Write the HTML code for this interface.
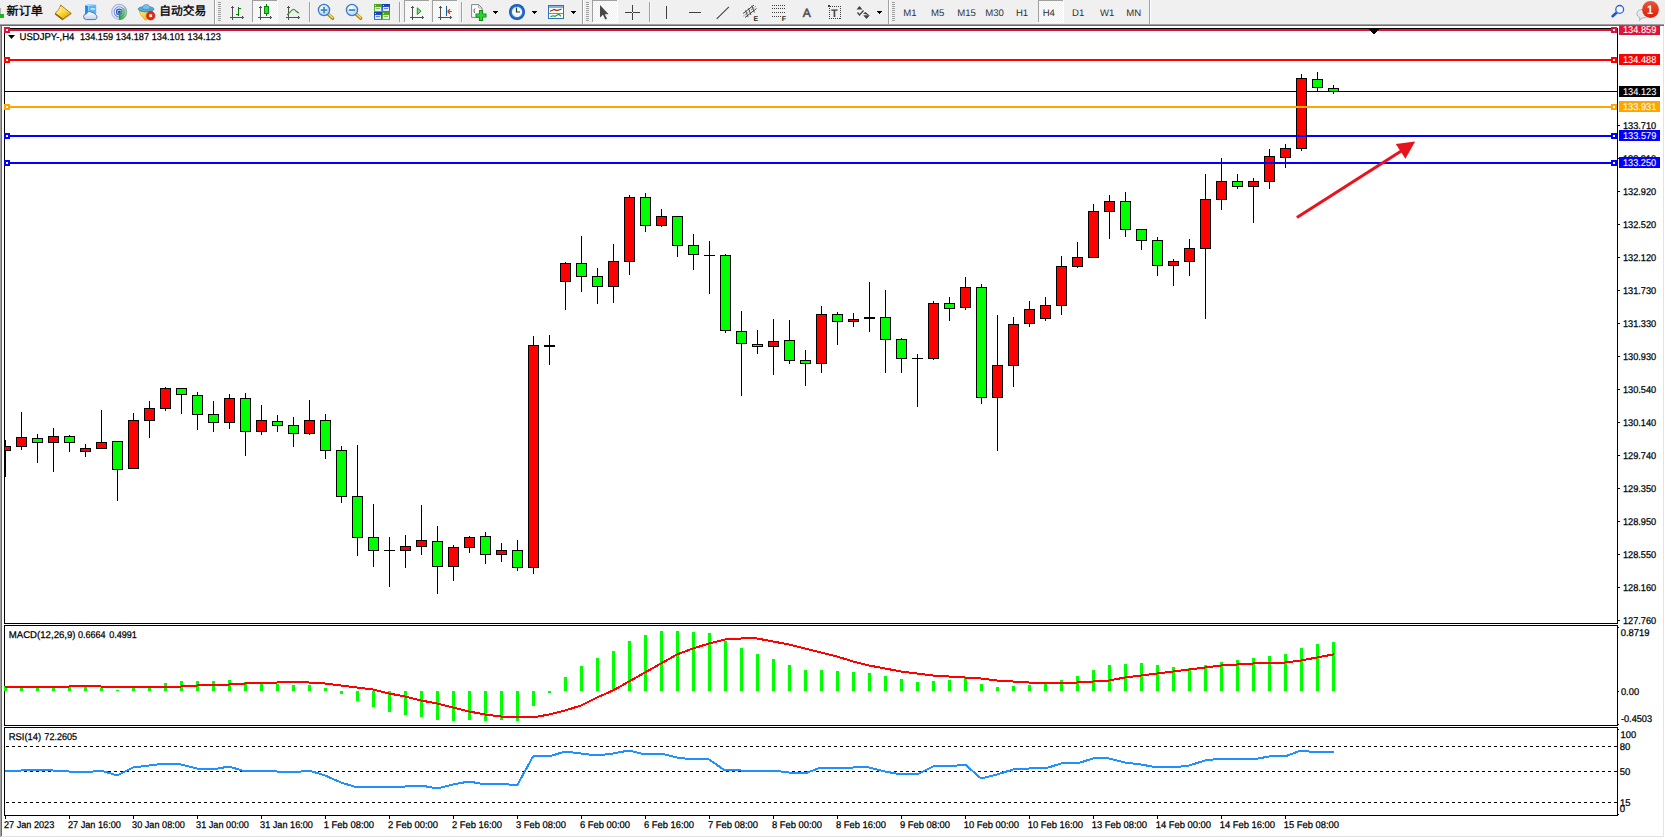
<!DOCTYPE html>
<html><head><meta charset="utf-8"><title>USDJPY-,H4</title>
<style>
html,body{margin:0;padding:0;background:#f0f0f0;overflow:hidden}
body{width:1665px;height:838px;position:relative}
svg{position:absolute;left:0;top:0;display:block}
svg text{font-family:"Liberation Sans", sans-serif;white-space:pre;text-rendering:geometricPrecision}
.tb text{font-family:"Liberation Sans","Noto Sans CJK SC",sans-serif}
</style></head>
<body>
<svg width="1665" height="838" viewBox="0 0 1665 838" shape-rendering="crispEdges">
<defs><clipPath id="clipclient"><rect x="2" y="26" width="1661" height="810"/></clipPath>
</defs>
<rect x="0" y="0" width="1665" height="838" fill="#f0f0f0"/>
<rect x="0" y="24" width="1664" height="1" fill="#a0a0a0"/>
<rect x="0" y="25" width="1664" height="1" fill="#696969"/>
<rect x="0" y="26" width="1" height="811" fill="#a0a0a0"/>
<rect x="1" y="26" width="1" height="810" fill="#696969"/>
<rect x="2" y="26" width="1661" height="810" fill="#ffffff"/>
<rect x="1663" y="26" width="1" height="811" fill="#e3e3e3"/>
<rect x="1" y="836" width="1663" height="1" fill="#e3e3e3"/>
<rect x="1664" y="24" width="1" height="814" fill="#ffffff"/>
<rect x="0" y="837" width="1665" height="1" fill="#ffffff"/>
<rect x="4" y="28" width="1614" height="1" fill="#000"/>
<rect x="4" y="623" width="1614" height="1" fill="#000"/>
<rect x="4" y="28" width="1" height="596" fill="#000"/>
<rect x="1617" y="28" width="1" height="596" fill="#000"/>
<rect x="4" y="625" width="1614" height="1" fill="#000"/>
<rect x="4" y="725" width="1614" height="1" fill="#000"/>
<rect x="4" y="625" width="1" height="101" fill="#000"/>
<rect x="1617" y="625" width="1" height="101" fill="#000"/>
<rect x="4" y="727" width="1614" height="1" fill="#000"/>
<rect x="4" y="815" width="1614" height="1" fill="#000"/>
<rect x="4" y="727" width="1" height="89" fill="#000"/>
<rect x="1617" y="727" width="1" height="89" fill="#000"/>
<rect x="5" y="91" width="1612" height="1" fill="#000"/>
<g id="candles">
<rect x="5" y="440" width="1" height="37" fill="#000"/>
<rect x="5" y="446" width="6" height="5" fill="#000"/>
<rect x="5" y="447" width="5" height="3" fill="#ff0000"/>
<rect x="21" y="412" width="1" height="38" fill="#000"/>
<rect x="16" y="437" width="11" height="10" fill="#000"/>
<rect x="17" y="438" width="9" height="8" fill="#ff0000"/>
<rect x="37" y="434" width="1" height="29" fill="#000"/>
<rect x="32" y="438" width="11" height="5" fill="#000"/>
<rect x="33" y="439" width="9" height="3" fill="#00ff00"/>
<rect x="53" y="428" width="1" height="44" fill="#000"/>
<rect x="48" y="436" width="11" height="7" fill="#000"/>
<rect x="49" y="437" width="9" height="5" fill="#ff0000"/>
<rect x="69" y="435" width="1" height="17" fill="#000"/>
<rect x="64" y="436" width="11" height="7" fill="#000"/>
<rect x="65" y="437" width="9" height="5" fill="#00ff00"/>
<rect x="85" y="444" width="1" height="13" fill="#000"/>
<rect x="80" y="448" width="11" height="4" fill="#000"/>
<rect x="81" y="449" width="9" height="2" fill="#ff0000"/>
<rect x="101" y="410" width="1" height="39" fill="#000"/>
<rect x="96" y="442" width="11" height="7" fill="#000"/>
<rect x="97" y="443" width="9" height="5" fill="#ff0000"/>
<rect x="117" y="441" width="1" height="60" fill="#000"/>
<rect x="112" y="441" width="11" height="29" fill="#000"/>
<rect x="113" y="442" width="9" height="27" fill="#00ff00"/>
<rect x="133" y="413" width="1" height="56" fill="#000"/>
<rect x="128" y="420" width="11" height="49" fill="#000"/>
<rect x="129" y="421" width="9" height="47" fill="#ff0000"/>
<rect x="149" y="401" width="1" height="37" fill="#000"/>
<rect x="144" y="408" width="11" height="13" fill="#000"/>
<rect x="145" y="409" width="9" height="11" fill="#ff0000"/>
<rect x="165" y="387" width="1" height="24" fill="#000"/>
<rect x="160" y="388" width="11" height="21" fill="#000"/>
<rect x="161" y="389" width="9" height="19" fill="#ff0000"/>
<rect x="181" y="388" width="1" height="26" fill="#000"/>
<rect x="176" y="388" width="11" height="7" fill="#000"/>
<rect x="177" y="389" width="9" height="5" fill="#00ff00"/>
<rect x="197" y="392" width="1" height="38" fill="#000"/>
<rect x="192" y="395" width="11" height="20" fill="#000"/>
<rect x="193" y="396" width="9" height="18" fill="#00ff00"/>
<rect x="213" y="401" width="1" height="31" fill="#000"/>
<rect x="208" y="414" width="11" height="9" fill="#000"/>
<rect x="209" y="415" width="9" height="7" fill="#00ff00"/>
<rect x="229" y="394" width="1" height="35" fill="#000"/>
<rect x="224" y="398" width="11" height="25" fill="#000"/>
<rect x="225" y="399" width="9" height="23" fill="#ff0000"/>
<rect x="245" y="393" width="1" height="63" fill="#000"/>
<rect x="240" y="398" width="11" height="34" fill="#000"/>
<rect x="241" y="399" width="9" height="32" fill="#00ff00"/>
<rect x="261" y="405" width="1" height="30" fill="#000"/>
<rect x="256" y="420" width="11" height="12" fill="#000"/>
<rect x="257" y="421" width="9" height="10" fill="#ff0000"/>
<rect x="277" y="415" width="1" height="17" fill="#000"/>
<rect x="272" y="421" width="11" height="5" fill="#000"/>
<rect x="273" y="422" width="9" height="3" fill="#00ff00"/>
<rect x="293" y="417" width="1" height="30" fill="#000"/>
<rect x="288" y="425" width="11" height="9" fill="#000"/>
<rect x="289" y="426" width="9" height="7" fill="#00ff00"/>
<rect x="309" y="400" width="1" height="35" fill="#000"/>
<rect x="304" y="420" width="11" height="14" fill="#000"/>
<rect x="305" y="421" width="9" height="12" fill="#ff0000"/>
<rect x="325" y="414" width="1" height="45" fill="#000"/>
<rect x="320" y="420" width="11" height="31" fill="#000"/>
<rect x="321" y="421" width="9" height="29" fill="#00ff00"/>
<rect x="341" y="446" width="1" height="57" fill="#000"/>
<rect x="336" y="450" width="11" height="47" fill="#000"/>
<rect x="337" y="451" width="9" height="45" fill="#00ff00"/>
<rect x="357" y="445" width="1" height="111" fill="#000"/>
<rect x="352" y="496" width="11" height="42" fill="#000"/>
<rect x="353" y="497" width="9" height="40" fill="#00ff00"/>
<rect x="373" y="504" width="1" height="63" fill="#000"/>
<rect x="368" y="537" width="11" height="14" fill="#000"/>
<rect x="369" y="538" width="9" height="12" fill="#00ff00"/>
<rect x="389" y="537" width="1" height="50" fill="#000"/>
<rect x="384" y="550" width="11" height="1" fill="#000"/>
<rect x="405" y="535" width="1" height="33" fill="#000"/>
<rect x="400" y="546" width="11" height="5" fill="#000"/>
<rect x="401" y="547" width="9" height="3" fill="#ff0000"/>
<rect x="421" y="505" width="1" height="50" fill="#000"/>
<rect x="416" y="540" width="11" height="7" fill="#000"/>
<rect x="417" y="541" width="9" height="5" fill="#ff0000"/>
<rect x="437" y="526" width="1" height="68" fill="#000"/>
<rect x="432" y="541" width="11" height="26" fill="#000"/>
<rect x="433" y="542" width="9" height="24" fill="#00ff00"/>
<rect x="453" y="545" width="1" height="36" fill="#000"/>
<rect x="448" y="547" width="11" height="20" fill="#000"/>
<rect x="449" y="548" width="9" height="18" fill="#ff0000"/>
<rect x="469" y="536" width="1" height="17" fill="#000"/>
<rect x="464" y="537" width="11" height="11" fill="#000"/>
<rect x="465" y="538" width="9" height="9" fill="#ff0000"/>
<rect x="485" y="532" width="1" height="32" fill="#000"/>
<rect x="480" y="536" width="11" height="19" fill="#000"/>
<rect x="481" y="537" width="9" height="17" fill="#00ff00"/>
<rect x="501" y="543" width="1" height="19" fill="#000"/>
<rect x="496" y="550" width="11" height="5" fill="#000"/>
<rect x="497" y="551" width="9" height="3" fill="#ff0000"/>
<rect x="517" y="540" width="1" height="31" fill="#000"/>
<rect x="512" y="550" width="11" height="18" fill="#000"/>
<rect x="513" y="551" width="9" height="16" fill="#00ff00"/>
<rect x="533" y="336" width="1" height="238" fill="#000"/>
<rect x="528" y="345" width="11" height="223" fill="#000"/>
<rect x="529" y="346" width="9" height="221" fill="#ff0000"/>
<rect x="549" y="335" width="1" height="30" fill="#000"/>
<rect x="544" y="345" width="11" height="2" fill="#000"/>
<rect x="565" y="262" width="1" height="48" fill="#000"/>
<rect x="560" y="263" width="11" height="19" fill="#000"/>
<rect x="561" y="264" width="9" height="17" fill="#ff0000"/>
<rect x="581" y="236" width="1" height="56" fill="#000"/>
<rect x="576" y="263" width="11" height="14" fill="#000"/>
<rect x="577" y="264" width="9" height="12" fill="#00ff00"/>
<rect x="597" y="268" width="1" height="36" fill="#000"/>
<rect x="592" y="276" width="11" height="11" fill="#000"/>
<rect x="593" y="277" width="9" height="9" fill="#00ff00"/>
<rect x="613" y="244" width="1" height="59" fill="#000"/>
<rect x="608" y="261" width="11" height="26" fill="#000"/>
<rect x="609" y="262" width="9" height="24" fill="#ff0000"/>
<rect x="629" y="195" width="1" height="80" fill="#000"/>
<rect x="624" y="197" width="11" height="65" fill="#000"/>
<rect x="625" y="198" width="9" height="63" fill="#ff0000"/>
<rect x="645" y="193" width="1" height="39" fill="#000"/>
<rect x="640" y="197" width="11" height="29" fill="#000"/>
<rect x="641" y="198" width="9" height="27" fill="#00ff00"/>
<rect x="661" y="209" width="1" height="18" fill="#000"/>
<rect x="656" y="216" width="11" height="10" fill="#000"/>
<rect x="657" y="217" width="9" height="8" fill="#ff0000"/>
<rect x="677" y="216" width="1" height="41" fill="#000"/>
<rect x="672" y="216" width="11" height="30" fill="#000"/>
<rect x="673" y="217" width="9" height="28" fill="#00ff00"/>
<rect x="693" y="234" width="1" height="36" fill="#000"/>
<rect x="688" y="245" width="11" height="10" fill="#000"/>
<rect x="689" y="246" width="9" height="8" fill="#00ff00"/>
<rect x="709" y="241" width="1" height="53" fill="#000"/>
<rect x="704" y="255" width="11" height="1" fill="#000"/>
<rect x="725" y="254" width="1" height="79" fill="#000"/>
<rect x="720" y="255" width="11" height="76" fill="#000"/>
<rect x="721" y="256" width="9" height="74" fill="#00ff00"/>
<rect x="741" y="311" width="1" height="85" fill="#000"/>
<rect x="736" y="331" width="11" height="13" fill="#000"/>
<rect x="737" y="332" width="9" height="11" fill="#00ff00"/>
<rect x="757" y="330" width="1" height="24" fill="#000"/>
<rect x="752" y="344" width="11" height="3" fill="#000"/>
<rect x="753" y="345" width="9" height="1" fill="#00ff00"/>
<rect x="773" y="319" width="1" height="56" fill="#000"/>
<rect x="768" y="341" width="11" height="6" fill="#000"/>
<rect x="769" y="342" width="9" height="4" fill="#ff0000"/>
<rect x="789" y="320" width="1" height="44" fill="#000"/>
<rect x="784" y="340" width="11" height="21" fill="#000"/>
<rect x="785" y="341" width="9" height="19" fill="#00ff00"/>
<rect x="805" y="350" width="1" height="36" fill="#000"/>
<rect x="800" y="360" width="11" height="4" fill="#000"/>
<rect x="801" y="361" width="9" height="2" fill="#00ff00"/>
<rect x="821" y="306" width="1" height="67" fill="#000"/>
<rect x="816" y="314" width="11" height="50" fill="#000"/>
<rect x="817" y="315" width="9" height="48" fill="#ff0000"/>
<rect x="837" y="312" width="1" height="33" fill="#000"/>
<rect x="832" y="314" width="11" height="8" fill="#000"/>
<rect x="833" y="315" width="9" height="6" fill="#00ff00"/>
<rect x="853" y="313" width="1" height="14" fill="#000"/>
<rect x="848" y="319" width="11" height="3" fill="#000"/>
<rect x="849" y="320" width="9" height="1" fill="#ff0000"/>
<rect x="869" y="282" width="1" height="50" fill="#000"/>
<rect x="864" y="317" width="11" height="2" fill="#000"/>
<rect x="885" y="290" width="1" height="83" fill="#000"/>
<rect x="880" y="317" width="11" height="23" fill="#000"/>
<rect x="881" y="318" width="9" height="21" fill="#00ff00"/>
<rect x="901" y="338" width="1" height="35" fill="#000"/>
<rect x="896" y="339" width="11" height="20" fill="#000"/>
<rect x="897" y="340" width="9" height="18" fill="#00ff00"/>
<rect x="917" y="354" width="1" height="53" fill="#000"/>
<rect x="912" y="358" width="11" height="1" fill="#000"/>
<rect x="933" y="301" width="1" height="59" fill="#000"/>
<rect x="928" y="303" width="11" height="56" fill="#000"/>
<rect x="929" y="304" width="9" height="54" fill="#ff0000"/>
<rect x="949" y="297" width="1" height="24" fill="#000"/>
<rect x="944" y="303" width="11" height="6" fill="#000"/>
<rect x="945" y="304" width="9" height="4" fill="#00ff00"/>
<rect x="965" y="277" width="1" height="33" fill="#000"/>
<rect x="960" y="287" width="11" height="21" fill="#000"/>
<rect x="961" y="288" width="9" height="19" fill="#ff0000"/>
<rect x="981" y="284" width="1" height="120" fill="#000"/>
<rect x="976" y="287" width="11" height="111" fill="#000"/>
<rect x="977" y="288" width="9" height="109" fill="#00ff00"/>
<rect x="997" y="315" width="1" height="136" fill="#000"/>
<rect x="992" y="365" width="11" height="33" fill="#000"/>
<rect x="993" y="366" width="9" height="31" fill="#ff0000"/>
<rect x="1013" y="317" width="1" height="70" fill="#000"/>
<rect x="1008" y="324" width="11" height="42" fill="#000"/>
<rect x="1009" y="325" width="9" height="40" fill="#ff0000"/>
<rect x="1029" y="301" width="1" height="26" fill="#000"/>
<rect x="1024" y="309" width="11" height="15" fill="#000"/>
<rect x="1025" y="310" width="9" height="13" fill="#ff0000"/>
<rect x="1045" y="297" width="1" height="24" fill="#000"/>
<rect x="1040" y="305" width="11" height="14" fill="#000"/>
<rect x="1041" y="306" width="9" height="12" fill="#ff0000"/>
<rect x="1061" y="256" width="1" height="59" fill="#000"/>
<rect x="1056" y="266" width="11" height="40" fill="#000"/>
<rect x="1057" y="267" width="9" height="38" fill="#ff0000"/>
<rect x="1077" y="242" width="1" height="26" fill="#000"/>
<rect x="1072" y="257" width="11" height="10" fill="#000"/>
<rect x="1073" y="258" width="9" height="8" fill="#ff0000"/>
<rect x="1093" y="204" width="1" height="54" fill="#000"/>
<rect x="1088" y="211" width="11" height="47" fill="#000"/>
<rect x="1089" y="212" width="9" height="45" fill="#ff0000"/>
<rect x="1109" y="195" width="1" height="44" fill="#000"/>
<rect x="1104" y="201" width="11" height="11" fill="#000"/>
<rect x="1105" y="202" width="9" height="9" fill="#ff0000"/>
<rect x="1125" y="192" width="1" height="45" fill="#000"/>
<rect x="1120" y="201" width="11" height="29" fill="#000"/>
<rect x="1121" y="202" width="9" height="27" fill="#00ff00"/>
<rect x="1141" y="229" width="1" height="21" fill="#000"/>
<rect x="1136" y="229" width="11" height="12" fill="#000"/>
<rect x="1137" y="230" width="9" height="10" fill="#00ff00"/>
<rect x="1157" y="237" width="1" height="39" fill="#000"/>
<rect x="1152" y="240" width="11" height="26" fill="#000"/>
<rect x="1153" y="241" width="9" height="24" fill="#00ff00"/>
<rect x="1173" y="259" width="1" height="27" fill="#000"/>
<rect x="1168" y="261" width="11" height="5" fill="#000"/>
<rect x="1169" y="262" width="9" height="3" fill="#ff0000"/>
<rect x="1189" y="239" width="1" height="37" fill="#000"/>
<rect x="1184" y="248" width="11" height="14" fill="#000"/>
<rect x="1185" y="249" width="9" height="12" fill="#ff0000"/>
<rect x="1205" y="174" width="1" height="145" fill="#000"/>
<rect x="1200" y="199" width="11" height="50" fill="#000"/>
<rect x="1201" y="200" width="9" height="48" fill="#ff0000"/>
<rect x="1221" y="158" width="1" height="52" fill="#000"/>
<rect x="1216" y="181" width="11" height="19" fill="#000"/>
<rect x="1217" y="182" width="9" height="17" fill="#ff0000"/>
<rect x="1237" y="174" width="1" height="15" fill="#000"/>
<rect x="1232" y="181" width="11" height="6" fill="#000"/>
<rect x="1233" y="182" width="9" height="4" fill="#00ff00"/>
<rect x="1253" y="178" width="1" height="45" fill="#000"/>
<rect x="1248" y="181" width="11" height="6" fill="#000"/>
<rect x="1249" y="182" width="9" height="4" fill="#ff0000"/>
<rect x="1269" y="149" width="1" height="40" fill="#000"/>
<rect x="1264" y="156" width="11" height="26" fill="#000"/>
<rect x="1265" y="157" width="9" height="24" fill="#ff0000"/>
<rect x="1285" y="144" width="1" height="24" fill="#000"/>
<rect x="1280" y="148" width="11" height="10" fill="#000"/>
<rect x="1281" y="149" width="9" height="8" fill="#ff0000"/>
<rect x="1301" y="74" width="1" height="77" fill="#000"/>
<rect x="1296" y="78" width="11" height="71" fill="#000"/>
<rect x="1297" y="79" width="9" height="69" fill="#ff0000"/>
<rect x="1317" y="72" width="1" height="20" fill="#000"/>
<rect x="1312" y="79" width="11" height="9" fill="#000"/>
<rect x="1313" y="80" width="9" height="7" fill="#00ff00"/>
<rect x="1333" y="85" width="1" height="9" fill="#000"/>
<rect x="1328" y="88" width="11" height="4" fill="#000"/>
<rect x="1329" y="89" width="9" height="2" fill="#00ff00"/>
</g>
<rect x="1618" y="125" width="2" height="1" fill="#000"/>
<text transform="translate(1622.9 129) scale(0.9418 1.0)" fill="#000" stroke="#000" stroke-width="0.25" font-size="9.8">133.710</text>
<rect x="1618" y="158" width="2" height="1" fill="#000"/>
<text transform="translate(1622.9 162) scale(0.9418 1.0)" fill="#000" stroke="#000" stroke-width="0.25" font-size="9.8">133.310</text>
<rect x="1618" y="191" width="2" height="1" fill="#000"/>
<text transform="translate(1622.9 195) scale(0.9418 1.0)" fill="#000" stroke="#000" stroke-width="0.25" font-size="9.8">132.920</text>
<rect x="1618" y="224" width="2" height="1" fill="#000"/>
<text transform="translate(1622.9 228) scale(0.9418 1.0)" fill="#000" stroke="#000" stroke-width="0.25" font-size="9.8">132.520</text>
<rect x="1618" y="257" width="2" height="1" fill="#000"/>
<text transform="translate(1622.9 261) scale(0.9418 1.0)" fill="#000" stroke="#000" stroke-width="0.25" font-size="9.8">132.120</text>
<rect x="1618" y="290" width="2" height="1" fill="#000"/>
<text transform="translate(1622.9 294) scale(0.9418 1.0)" fill="#000" stroke="#000" stroke-width="0.25" font-size="9.8">131.730</text>
<rect x="1618" y="323" width="2" height="1" fill="#000"/>
<text transform="translate(1622.9 327) scale(0.9418 1.0)" fill="#000" stroke="#000" stroke-width="0.25" font-size="9.8">131.330</text>
<rect x="1618" y="356" width="2" height="1" fill="#000"/>
<text transform="translate(1622.9 360) scale(0.9418 1.0)" fill="#000" stroke="#000" stroke-width="0.25" font-size="9.8">130.930</text>
<rect x="1618" y="389" width="2" height="1" fill="#000"/>
<text transform="translate(1622.9 393) scale(0.9418 1.0)" fill="#000" stroke="#000" stroke-width="0.25" font-size="9.8">130.540</text>
<rect x="1618" y="422" width="2" height="1" fill="#000"/>
<text transform="translate(1622.9 426) scale(0.9418 1.0)" fill="#000" stroke="#000" stroke-width="0.25" font-size="9.8">130.140</text>
<rect x="1618" y="455" width="2" height="1" fill="#000"/>
<text transform="translate(1622.9 459) scale(0.9418 1.0)" fill="#000" stroke="#000" stroke-width="0.25" font-size="9.8">129.740</text>
<rect x="1618" y="488" width="2" height="1" fill="#000"/>
<text transform="translate(1622.9 492) scale(0.9418 1.0)" fill="#000" stroke="#000" stroke-width="0.25" font-size="9.8">129.350</text>
<rect x="1618" y="521" width="2" height="1" fill="#000"/>
<text transform="translate(1622.9 525) scale(0.9418 1.0)" fill="#000" stroke="#000" stroke-width="0.25" font-size="9.8">128.950</text>
<rect x="1618" y="554" width="2" height="1" fill="#000"/>
<text transform="translate(1622.9 558) scale(0.9418 1.0)" fill="#000" stroke="#000" stroke-width="0.25" font-size="9.8">128.550</text>
<rect x="1618" y="587" width="2" height="1" fill="#000"/>
<text transform="translate(1622.9 591) scale(0.9418 1.0)" fill="#000" stroke="#000" stroke-width="0.25" font-size="9.8">128.160</text>
<rect x="1618" y="620" width="2" height="1" fill="#000"/>
<text transform="translate(1622.9 624) scale(0.9418 1.0)" fill="#000" stroke="#000" stroke-width="0.25" font-size="9.8">127.760</text>
<rect x="5" y="162" width="1612" height="2" fill="#0000ff"/>
<rect x="4" y="160" width="6" height="6" fill="#0000ff"/>
<rect x="6" y="162" width="2" height="2" fill="#fff"/>
<rect x="1611" y="160" width="6" height="6" fill="#0000ff"/>
<rect x="1613" y="162" width="2" height="2" fill="#fff"/>
<rect x="1619" y="157" width="41" height="11" fill="#0000ff"/>
<text transform="translate(1622.9 166) scale(0.9418 1.0)" fill="#fff" stroke="#fff" stroke-width="0.08" font-size="9.8">133.250</text>
<rect x="5" y="135" width="1612" height="2" fill="#0000ff"/>
<rect x="4" y="133" width="6" height="6" fill="#0000ff"/>
<rect x="6" y="135" width="2" height="2" fill="#fff"/>
<rect x="1611" y="133" width="6" height="6" fill="#0000ff"/>
<rect x="1613" y="135" width="2" height="2" fill="#fff"/>
<rect x="1619" y="130" width="41" height="11" fill="#0000ff"/>
<text transform="translate(1622.9 139) scale(0.9441 1.0)" fill="#fff" stroke="#fff" stroke-width="0.08" font-size="9.8">133.579</text>
<rect x="5" y="106" width="1612" height="2" fill="#ffa500"/>
<rect x="4" y="104" width="6" height="6" fill="#ffa500"/>
<rect x="6" y="106" width="2" height="2" fill="#fff"/>
<rect x="1611" y="104" width="6" height="6" fill="#ffa500"/>
<rect x="1613" y="106" width="2" height="2" fill="#fff"/>
<rect x="1619" y="101" width="41" height="11" fill="#ffa500"/>
<text transform="translate(1622.89 110) scale(0.9445 1.0)" fill="#fff" stroke="#fff" stroke-width="0.08" font-size="9.8">133.931</text>
<rect x="5" y="59" width="1612" height="2" fill="#ff0000"/>
<rect x="4" y="57" width="6" height="6" fill="#ff0000"/>
<rect x="6" y="59" width="2" height="2" fill="#fff"/>
<rect x="1611" y="57" width="6" height="6" fill="#ff0000"/>
<rect x="1613" y="59" width="2" height="2" fill="#fff"/>
<rect x="1619" y="54" width="41" height="11" fill="#ff0000"/>
<text transform="translate(1622.9 63) scale(0.943 1.0)" fill="#fff" stroke="#fff" stroke-width="0.08" font-size="9.8">134.488</text>
<g clip-path="url(#clipclient)">
<rect x="5" y="29" width="1612" height="2" fill="#dc143c"/>
<rect x="4" y="27" width="6" height="6" fill="#dc143c"/>
<rect x="6" y="29" width="2" height="2" fill="#fff"/>
<rect x="1611" y="27" width="6" height="6" fill="#dc143c"/>
<rect x="1613" y="29" width="2" height="2" fill="#fff"/>
<rect x="1619" y="24" width="41" height="11" fill="#dc143c"/>
<text transform="translate(1622.9 33) scale(0.9441 1.0)" fill="#fff" stroke="#fff" stroke-width="0.08" font-size="9.8">134.859</text>
</g>
<rect x="1619" y="86" width="41" height="11" fill="#000"/>
<text transform="translate(1622.9 95) scale(0.9431 1.0)" fill="#fff" stroke="#fff" stroke-width="0.08" font-size="9.8">134.123</text>
<path d="M1369 29h10l-5 5z" fill="#000" shape-rendering="crispEdges"/>
<rect x="1369" y="29" width="10" height="1" fill="#000"/>
<rect x="1370" y="30" width="8" height="1" fill="#000"/>
<rect x="1371" y="31" width="6" height="1" fill="#000"/>
<rect x="1372" y="32" width="4" height="1" fill="#000"/>
<rect x="1373" y="33" width="2" height="1" fill="#000"/>
<g shape-rendering="auto">
<line x1="1296.9" y1="217.6" x2="1402" y2="150.6" stroke="#e8131b" stroke-width="3"/>
<path d="M1415.2 141.6L1395.8 144.1L1405.4 158.7Z" fill="#e8131b"/>
</g>
<path d="M8 35h7l-3.5 4z" fill="#000" shape-rendering="auto"/>
<text transform="translate(19.56 40) scale(0.9744 1.0)" fill="#000" stroke="#000" stroke-width="0.25" font-size="9.8">USDJPY-,H4</text>
<text transform="translate(79.9 40) scale(0.9409 1.0)" fill="#000" stroke="#000" stroke-width="0.25" font-size="9.8">134.159 134.187 134.101 134.123</text>
<text transform="translate(8.71 638) scale(0.9825 1.0)" fill="#000" stroke="#000" stroke-width="0.25" font-size="9.8">MACD(12,26,9)</text>
<text transform="translate(78.05 638) scale(0.918 1.0)" fill="#000" stroke="#000" stroke-width="0.25" font-size="9.8">0.6664</text>
<text transform="translate(109.15 638) scale(0.924 1.0)" fill="#000" stroke="#000" stroke-width="0.25" font-size="9.8">0.4991</text>
<rect x="4" y="686" width="3" height="5" fill="#00ff00"/>
<rect x="20" y="688" width="3" height="3" fill="#00ff00"/>
<rect x="36" y="688" width="3" height="3" fill="#00ff00"/>
<rect x="52" y="688" width="3" height="3" fill="#00ff00"/>
<rect x="68" y="687" width="3" height="4" fill="#00ff00"/>
<rect x="84" y="687" width="3" height="4" fill="#00ff00"/>
<rect x="100" y="688" width="3" height="3" fill="#00ff00"/>
<rect x="116" y="690" width="3" height="1" fill="#00ff00"/>
<rect x="132" y="688" width="3" height="3" fill="#00ff00"/>
<rect x="148" y="688" width="3" height="3" fill="#00ff00"/>
<rect x="164" y="683" width="3" height="8" fill="#00ff00"/>
<rect x="180" y="681" width="3" height="10" fill="#00ff00"/>
<rect x="196" y="681" width="3" height="10" fill="#00ff00"/>
<rect x="212" y="681" width="3" height="10" fill="#00ff00"/>
<rect x="228" y="680" width="3" height="11" fill="#00ff00"/>
<rect x="244" y="682" width="3" height="9" fill="#00ff00"/>
<rect x="260" y="683" width="3" height="8" fill="#00ff00"/>
<rect x="276" y="684" width="3" height="7" fill="#00ff00"/>
<rect x="292" y="685" width="3" height="6" fill="#00ff00"/>
<rect x="308" y="685" width="3" height="6" fill="#00ff00"/>
<rect x="324" y="688" width="3" height="3" fill="#00ff00"/>
<rect x="340" y="691" width="3" height="3" fill="#00ff00"/>
<rect x="356" y="691" width="3" height="10" fill="#00ff00"/>
<rect x="372" y="691" width="3" height="16" fill="#00ff00"/>
<rect x="388" y="691" width="3" height="21" fill="#00ff00"/>
<rect x="404" y="691" width="3" height="24" fill="#00ff00"/>
<rect x="420" y="691" width="3" height="26" fill="#00ff00"/>
<rect x="436" y="691" width="3" height="29" fill="#00ff00"/>
<rect x="452" y="691" width="3" height="30" fill="#00ff00"/>
<rect x="468" y="691" width="3" height="29" fill="#00ff00"/>
<rect x="484" y="691" width="3" height="30" fill="#00ff00"/>
<rect x="500" y="691" width="3" height="29" fill="#00ff00"/>
<rect x="516" y="691" width="3" height="30" fill="#00ff00"/>
<rect x="532" y="691" width="3" height="15" fill="#00ff00"/>
<rect x="548" y="691" width="3" height="2" fill="#00ff00"/>
<rect x="564" y="677" width="3" height="14" fill="#00ff00"/>
<rect x="580" y="666" width="3" height="25" fill="#00ff00"/>
<rect x="596" y="658" width="3" height="33" fill="#00ff00"/>
<rect x="612" y="651" width="3" height="40" fill="#00ff00"/>
<rect x="628" y="641" width="3" height="50" fill="#00ff00"/>
<rect x="644" y="635" width="3" height="56" fill="#00ff00"/>
<rect x="660" y="631" width="3" height="60" fill="#00ff00"/>
<rect x="676" y="631" width="3" height="60" fill="#00ff00"/>
<rect x="692" y="632" width="3" height="59" fill="#00ff00"/>
<rect x="708" y="633" width="3" height="58" fill="#00ff00"/>
<rect x="724" y="641" width="3" height="50" fill="#00ff00"/>
<rect x="740" y="648" width="3" height="43" fill="#00ff00"/>
<rect x="756" y="654" width="3" height="37" fill="#00ff00"/>
<rect x="772" y="659" width="3" height="32" fill="#00ff00"/>
<rect x="788" y="665" width="3" height="26" fill="#00ff00"/>
<rect x="804" y="670" width="3" height="21" fill="#00ff00"/>
<rect x="820" y="670" width="3" height="21" fill="#00ff00"/>
<rect x="836" y="671" width="3" height="20" fill="#00ff00"/>
<rect x="852" y="672" width="3" height="19" fill="#00ff00"/>
<rect x="868" y="673" width="3" height="18" fill="#00ff00"/>
<rect x="884" y="676" width="3" height="15" fill="#00ff00"/>
<rect x="900" y="679" width="3" height="12" fill="#00ff00"/>
<rect x="916" y="682" width="3" height="9" fill="#00ff00"/>
<rect x="932" y="681" width="3" height="10" fill="#00ff00"/>
<rect x="948" y="680" width="3" height="11" fill="#00ff00"/>
<rect x="964" y="678" width="3" height="13" fill="#00ff00"/>
<rect x="980" y="684" width="3" height="7" fill="#00ff00"/>
<rect x="996" y="687" width="3" height="4" fill="#00ff00"/>
<rect x="1012" y="686" width="3" height="5" fill="#00ff00"/>
<rect x="1028" y="685" width="3" height="6" fill="#00ff00"/>
<rect x="1044" y="683" width="3" height="8" fill="#00ff00"/>
<rect x="1060" y="680" width="3" height="11" fill="#00ff00"/>
<rect x="1076" y="676" width="3" height="15" fill="#00ff00"/>
<rect x="1092" y="670" width="3" height="21" fill="#00ff00"/>
<rect x="1108" y="665" width="3" height="26" fill="#00ff00"/>
<rect x="1124" y="664" width="3" height="27" fill="#00ff00"/>
<rect x="1140" y="663" width="3" height="28" fill="#00ff00"/>
<rect x="1156" y="665" width="3" height="26" fill="#00ff00"/>
<rect x="1172" y="667" width="3" height="24" fill="#00ff00"/>
<rect x="1188" y="668" width="3" height="23" fill="#00ff00"/>
<rect x="1204" y="665" width="3" height="26" fill="#00ff00"/>
<rect x="1220" y="662" width="3" height="29" fill="#00ff00"/>
<rect x="1236" y="660" width="3" height="31" fill="#00ff00"/>
<rect x="1252" y="658" width="3" height="33" fill="#00ff00"/>
<rect x="1268" y="656" width="3" height="35" fill="#00ff00"/>
<rect x="1284" y="654" width="3" height="37" fill="#00ff00"/>
<rect x="1300" y="648" width="3" height="43" fill="#00ff00"/>
<rect x="1316" y="644" width="3" height="47" fill="#00ff00"/>
<rect x="1332" y="642" width="3" height="49" fill="#00ff00"/>
<polyline points="5.02,687.49 21.02,687.49 37.02,687.49 53.02,687.49 69.02,686.49 85.02,686.49 101.02,686.49 117.02,687.49 133.02,687.49 149.02,687.49 165.02,687.49 181.02,686.49 197.02,685.49 213.02,685.49 229.02,684.49 245.02,683.49 261.02,683.49 277.02,682.49 293.02,682.49 309.02,682.49 325.02,683.49 341.02,685.49 357.02,687.49 373.02,689.49 389.02,693.49 405.02,696.49 421.02,700.49 437.02,703.49 453.02,707.49 469.02,711.49 485.02,714.49 501.02,716.49 517.02,717.49 533.02,717.49 549.02,714.49 565.02,710.49 581.02,705.49 597.02,697.49 613.02,690.49 629.02,681.49 645.02,672.49 661.02,663.49 677.02,654.49 693.02,648.49 709.02,643.49 725.02,639.49 741.02,638.49 757.02,638.49 773.02,641.49 789.02,644.49 805.02,648.49 821.02,652.49 837.02,656.49 853.02,661.49 869.02,665.49 885.02,668.49 901.02,671.49 917.02,673.49 933.02,675.49 949.02,676.49 965.02,677.49 981.02,678.49 997.02,680.49 1013.02,681.49 1029.02,682.49 1045.02,683.49 1061.02,683.49 1077.02,682.49 1093.02,681.49 1109.02,680.49 1125.02,677.49 1141.02,675.49 1157.02,673.49 1173.02,671.49 1189.02,669.49 1205.02,667.49 1221.02,665.49 1237.02,664.49 1253.02,663.49 1269.02,663.49 1285.02,662.49 1301.02,660.49 1317.02,657.49 1333.02,654.49 1334,654.49" fill="none" stroke="#ff0000" stroke-width="2" stroke-linejoin="bevel" shape-rendering="crispEdges"/>
<rect x="1618" y="627" width="1" height="1" fill="#000"/>
<text transform="translate(1620.73 636) scale(0.9579 1.0)" fill="#000" stroke="#000" stroke-width="0.25" font-size="9.8">0.8719</text>
<text transform="translate(1620.94 695) scale(0.9504 1.0)" fill="#000" stroke="#000" stroke-width="0.25" font-size="9.8">0.00</text>
<rect x="1618" y="691" width="1" height="1" fill="#000"/>
<text transform="translate(1620.89 722) scale(0.9391 1.0)" fill="#000" stroke="#000" stroke-width="0.25" font-size="9.8">-0.4503</text>
<rect x="1618" y="724" width="1" height="1" fill="#000"/>
<text transform="translate(8.73 740) scale(0.9613 1.0)" fill="#000" stroke="#000" stroke-width="0.25" font-size="9.8">RSI(14)</text>
<text transform="translate(44.34 740) scale(0.9244 1.0)" fill="#000" stroke="#000" stroke-width="0.25" font-size="9.8">72.2605</text>
<line x1="6" y1="746.5" x2="1617" y2="746.5" stroke="#000" stroke-width="1" stroke-dasharray="3 3"/>
<line x1="6" y1="771.5" x2="1617" y2="771.5" stroke="#000" stroke-width="1" stroke-dasharray="3 3"/>
<line x1="6" y1="802.5" x2="1617" y2="802.5" stroke="#000" stroke-width="1" stroke-dasharray="3 3"/>
<polyline points="5.02,771.49 21.02,770.49 37.02,770.49 53.02,770.49 69.02,771.49 85.02,772.49 101.02,770.49 117.02,775.49 133.02,767.49 149.02,765.49 165.02,763.49 181.02,764.49 197.02,768.49 213.02,769.49 229.02,766.49 245.02,771.49 261.02,771.49 277.02,771.49 293.02,772.49 309.02,770.49 325.02,775.49 341.02,782.49 357.02,787.49 373.02,787.49 389.02,787.49 405.02,786.49 421.02,785.49 437.02,788.49 453.02,784.49 469.02,781.49 485.02,784.49 501.02,783.49 517.02,785.49 533.02,756.49 549.02,756.49 565.02,751.49 581.02,753.49 597.02,755.49 613.02,753.49 629.02,750.49 645.02,754.49 661.02,753.49 677.02,757.49 693.02,759.49 709.02,759.49 725.02,770.49 741.02,770.49 757.02,771.49 773.02,770.49 789.02,772.49 805.02,773.49 821.02,767.49 837.02,768.49 853.02,767.49 869.02,767.49 885.02,771.49 901.02,774.49 917.02,774.49 933.02,766.49 949.02,766.49 965.02,764.49 981.02,778.49 997.02,774.49 1013.02,769.49 1029.02,768.49 1045.02,768.49 1061.02,763.49 1077.02,763.49 1093.02,758.49 1109.02,758.49 1125.02,762.49 1141.02,764.49 1157.02,767.49 1173.02,767.49 1189.02,765.49 1205.02,760.49 1221.02,758.49 1237.02,759.49 1253.02,759.49 1269.02,756.49 1285.02,756.49 1301.02,750.49 1317.02,752.49 1333.02,752.49 1334,752.49" fill="none" stroke="#1e90ff" stroke-width="2" stroke-linejoin="bevel" shape-rendering="crispEdges"/>
<text transform="translate(1620.59 738) scale(0.9526 1.0)" fill="#000" stroke="#000" stroke-width="0.25" font-size="9.8">100</text>
<rect x="1618" y="729" width="1" height="1" fill="#000"/>
<text transform="translate(1619.79 750) scale(0.9711 1.0)" fill="#000" stroke="#000" stroke-width="0.25" font-size="9.8">80</text>
<text transform="translate(1619.82 775) scale(0.9679 1.0)" fill="#000" stroke="#000" stroke-width="0.25" font-size="9.8">50</text>
<text transform="translate(1619.88 806) scale(0.9648 1.0)" fill="#000" stroke="#000" stroke-width="0.25" font-size="9.8">15</text>
<text transform="translate(1619.82 812) scale(0.9819 1.0)" fill="#000" stroke="#000" stroke-width="0.25" font-size="9.8">0</text>
<rect x="1618" y="814" width="1" height="1" fill="#000"/>
<rect x="5" y="816" width="1" height="3" fill="#000"/>
<text transform="translate(3.94 828) scale(0.9335 1.0)" fill="#000" stroke="#000" stroke-width="0.25" font-size="9.8">27 Jan 2023</text>
<rect x="69" y="816" width="1" height="3" fill="#000"/>
<text transform="translate(67.94 828) scale(0.9356 1.0)" fill="#000" stroke="#000" stroke-width="0.25" font-size="9.8">27 Jan 16:00</text>
<rect x="133" y="816" width="1" height="3" fill="#000"/>
<text transform="translate(132.05 828) scale(0.9336 1.0)" fill="#000" stroke="#000" stroke-width="0.25" font-size="9.8">30 Jan 08:00</text>
<rect x="197" y="816" width="1" height="3" fill="#000"/>
<text transform="translate(196.05 828) scale(0.9336 1.0)" fill="#000" stroke="#000" stroke-width="0.25" font-size="9.8">31 Jan 00:00</text>
<rect x="261" y="816" width="1" height="3" fill="#000"/>
<text transform="translate(260.05 828) scale(0.9336 1.0)" fill="#000" stroke="#000" stroke-width="0.25" font-size="9.8">31 Jan 16:00</text>
<rect x="325" y="816" width="1" height="3" fill="#000"/>
<text transform="translate(323.68 828) scale(0.9633 1.0)" fill="#000" stroke="#000" stroke-width="0.25" font-size="9.8">1 Feb 08:00</text>
<rect x="389" y="816" width="1" height="3" fill="#000"/>
<text transform="translate(387.93 828) scale(0.9586 1.0)" fill="#000" stroke="#000" stroke-width="0.25" font-size="9.8">2 Feb 00:00</text>
<rect x="453" y="816" width="1" height="3" fill="#000"/>
<text transform="translate(451.93 828) scale(0.9586 1.0)" fill="#000" stroke="#000" stroke-width="0.25" font-size="9.8">2 Feb 16:00</text>
<rect x="517" y="816" width="1" height="3" fill="#000"/>
<text transform="translate(516.04 828) scale(0.9563 1.0)" fill="#000" stroke="#000" stroke-width="0.25" font-size="9.8">3 Feb 08:00</text>
<rect x="581" y="816" width="1" height="3" fill="#000"/>
<text transform="translate(579.92 828) scale(0.9587 1.0)" fill="#000" stroke="#000" stroke-width="0.25" font-size="9.8">6 Feb 00:00</text>
<rect x="645" y="816" width="1" height="3" fill="#000"/>
<text transform="translate(643.92 828) scale(0.9587 1.0)" fill="#000" stroke="#000" stroke-width="0.25" font-size="9.8">6 Feb 16:00</text>
<rect x="709" y="816" width="1" height="3" fill="#000"/>
<text transform="translate(707.92 828) scale(0.9587 1.0)" fill="#000" stroke="#000" stroke-width="0.25" font-size="9.8">7 Feb 08:00</text>
<rect x="773" y="816" width="1" height="3" fill="#000"/>
<text transform="translate(771.99 828) scale(0.9573 1.0)" fill="#000" stroke="#000" stroke-width="0.25" font-size="9.8">8 Feb 00:00</text>
<rect x="837" y="816" width="1" height="3" fill="#000"/>
<text transform="translate(835.99 828) scale(0.9573 1.0)" fill="#000" stroke="#000" stroke-width="0.25" font-size="9.8">8 Feb 16:00</text>
<rect x="901" y="816" width="1" height="3" fill="#000"/>
<text transform="translate(899.96 828) scale(0.9579 1.0)" fill="#000" stroke="#000" stroke-width="0.25" font-size="9.8">9 Feb 08:00</text>
<rect x="965" y="816" width="1" height="3" fill="#000"/>
<text transform="translate(963.68 828) scale(0.9589 1.0)" fill="#000" stroke="#000" stroke-width="0.25" font-size="9.8">10 Feb 00:00</text>
<rect x="1029" y="816" width="1" height="3" fill="#000"/>
<text transform="translate(1027.68 828) scale(0.9589 1.0)" fill="#000" stroke="#000" stroke-width="0.25" font-size="9.8">10 Feb 16:00</text>
<rect x="1093" y="816" width="1" height="3" fill="#000"/>
<text transform="translate(1091.68 828) scale(0.9589 1.0)" fill="#000" stroke="#000" stroke-width="0.25" font-size="9.8">13 Feb 08:00</text>
<rect x="1157" y="816" width="1" height="3" fill="#000"/>
<text transform="translate(1155.68 828) scale(0.9589 1.0)" fill="#000" stroke="#000" stroke-width="0.25" font-size="9.8">14 Feb 00:00</text>
<rect x="1221" y="816" width="1" height="3" fill="#000"/>
<text transform="translate(1219.68 828) scale(0.9589 1.0)" fill="#000" stroke="#000" stroke-width="0.25" font-size="9.8">14 Feb 16:00</text>
<rect x="1285" y="816" width="1" height="3" fill="#000"/>
<text transform="translate(1283.68 828) scale(0.9589 1.0)" fill="#000" stroke="#000" stroke-width="0.25" font-size="9.8">15 Feb 08:00</text>
<g class="tb">
<defs>
<pattern id="chk" width="2" height="2" patternUnits="userSpaceOnUse"><rect width="2" height="2" fill="#f0f0f0"/><rect width="1" height="1" fill="#fff"/><rect x="1" y="1" width="1" height="1" fill="#fff"/></pattern>
<linearGradient id="gGold" x1="0.1" y1="0" x2="0.8" y2="1"><stop offset="0" stop-color="#f6d048"/><stop offset="0.45" stop-color="#ffe44a"/><stop offset="1" stop-color="#dc9a10"/></linearGradient>
<linearGradient id="gBlue" x1="0" y1="0" x2="0" y2="1"><stop offset="0" stop-color="#6fb4f4"/><stop offset="1" stop-color="#1a62d0"/></linearGradient>
<linearGradient id="gCloud" x1="0" y1="0" x2="0" y2="1"><stop offset="0" stop-color="#ffffff"/><stop offset="1" stop-color="#c3d3ea"/></linearGradient>
<linearGradient id="gGreen" x1="0" y1="0" x2="0" y2="1"><stop offset="0" stop-color="#7be06a"/><stop offset="1" stop-color="#129a14"/></linearGradient>
<linearGradient id="gGreenT" x1="0" y1="0" x2="0" y2="1"><stop offset="0" stop-color="#4aa01e"/><stop offset="1" stop-color="#5fb82c"/></linearGradient>
<linearGradient id="gBlueT" x1="0" y1="0" x2="0" y2="1"><stop offset="0" stop-color="#1238b8"/><stop offset="1" stop-color="#3f78e6"/></linearGradient>
<linearGradient id="gRedB" x1="0" y1="0" x2="0" y2="1"><stop offset="0" stop-color="#ea5636"/><stop offset="1" stop-color="#dc1c0c"/></linearGradient>
<radialGradient id="gLens" cx="0.4" cy="0.35" r="0.7"><stop offset="0" stop-color="#ffffff"/><stop offset="1" stop-color="#a9d4f5"/></radialGradient>
<radialGradient id="gClock" cx="0.5" cy="0.5" r="0.5"><stop offset="0" stop-color="#ffffff"/><stop offset="0.58" stop-color="#f0f4fa"/><stop offset="0.68" stop-color="#2a80dc"/><stop offset="1" stop-color="#0a48a8"/></radialGradient>
<linearGradient id="gSigG" x1="1" y1="0" x2="0.2" y2="1"><stop offset="0" stop-color="#7fbf88" stop-opacity="0.35"/><stop offset="1" stop-color="#2fa636" stop-opacity="0.95"/></linearGradient>
<linearGradient id="gYel" x1="0" y1="0" x2="1" y2="1"><stop offset="0" stop-color="#fff27a"/><stop offset="1" stop-color="#e8a60e"/></linearGradient>
</defs>
<rect x="0" y="8" width="1" height="6" fill="#b0b0b0"/>
<rect x="0" y="14" width="4" height="4" fill="#18b818"/>
<text x="6.6" y="15.4" font-size="12" fill="#000" stroke="#000" stroke-width="0.35" textLength="36.4" lengthAdjust="spacingAndGlyphs">新订单</text>
<g shape-rendering="auto">
<path d="M55 13.9L62.6 19.9L71.3 13.7L71 12.9L62.7 18.6Z" fill="#e6d694" stroke="#a87418" stroke-width="0.7"/>
<path d="M60.7 5C60 8 58 11.2 55 13.5L62.6 19.2L71 13.3Z" fill="url(#gGold)" stroke="#a87014" stroke-width="0.9" stroke-linejoin="round"/>
<path d="M55.2 13.7L62.6 19.4" stroke="#9a6610" stroke-width="1.5"/>
<path d="M61.2 6.8C60.4 9.4 58.8 11.8 56.8 13.6" stroke="#fff4b0" stroke-width="1.1" fill="none" opacity="0.9"/>
</g>
<g shape-rendering="auto">
<path d="M85.2 5.2L89.6 4L96.2 5L96.2 14L85.2 14Z" fill="#58b2f8"/>
<path d="M85.2 5.2L88.4 6.2V14H85.2Z" fill="#158af0"/>
<path d="M85.2 5.2L89.6 4L96.2 5L88.4 6.2Z" fill="#a6d8ff"/>
<path d="M88.4 6.2V13" stroke="#e8f4ff" stroke-width="0.6"/>
<rect x="90.6" y="8.4" width="4.4" height="1.1" fill="#ffffff"/>
<path d="M86.4 19.6a2.9 2.9 0 0 1 0.2-5.8a2.9 2.9 0 0 1 5-1.3a3.3 3.3 0 0 1 3.7 2.1a2.6 2.6 0 0 1 -0.3 5z" fill="url(#gCloud)" stroke="#4c68a8" stroke-width="0.9"/>
</g>
<g shape-rendering="auto" fill="none">
<circle cx="119.2" cy="11.9" r="7.5" stroke="#8fa6e2" stroke-width="1.1" opacity="0.8"/>
<circle cx="119.2" cy="11.9" r="5.1" stroke="#5a7cd8" stroke-width="1.1" opacity="0.85"/>
<circle cx="119.2" cy="11.9" r="2.7" stroke="#2c58cc" stroke-width="1.2"/>
<path d="M119.2 11.9L124.8 6.3A8 8 0 0 1 119.9 19.9Z" fill="url(#gSigG)"/>
<circle cx="119.2" cy="11.9" r="1.5" fill="#2244c4"/>
<path d="M119.6 12.4V19.8" stroke="#22a422" stroke-width="1.4"/>
</g>
<g shape-rendering="auto">
<path d="M139.2 10.6L153 10.6L151 15L146.6 20L144.6 19.6L140.4 14.2Z" fill="url(#gYel)" stroke="#d8a018" stroke-width="0.7"/>
<ellipse cx="146.1" cy="9" rx="8" ry="2.5" fill="#5aaad8" stroke="#2c84b4" stroke-width="0.7"/>
<path d="M142.2 8.6C142.4 3.2 150 3.2 150.3 8.6C148 9.8 144.4 9.8 142.2 8.6Z" fill="#7cc0e6" stroke="#2c84b4" stroke-width="0.6"/>
<path d="M139.4 10.4C142 12.4 150 12.4 152.8 10.4" fill="none" stroke="#3b8cc0" stroke-width="0.8"/>
<circle cx="150.7" cy="15.7" r="4.3" fill="#e62a12"/>
<circle cx="150.7" cy="15.7" r="4.3" fill="none" stroke="#c01808" stroke-width="0.6"/>
<rect x="149.3" y="14.3" width="2.8" height="2.8" fill="#fff"/>
</g>
<text x="159.2" y="15.4" font-size="12" fill="#000" stroke="#000" stroke-width="0.35" textLength="47" lengthAdjust="spacingAndGlyphs">自动交易</text>
<rect x="214" y="0" width="1" height="24" fill="#a0a0a0"/><rect x="215" y="0" width="1" height="24" fill="#ffffff"/>
<rect x="218" y="2" width="3" height="1" fill="#a0a0a0"/>
<rect x="218" y="4" width="3" height="1" fill="#a0a0a0"/>
<rect x="218" y="6" width="3" height="1" fill="#a0a0a0"/>
<rect x="218" y="8" width="3" height="1" fill="#a0a0a0"/>
<rect x="218" y="10" width="3" height="1" fill="#a0a0a0"/>
<rect x="218" y="12" width="3" height="1" fill="#a0a0a0"/>
<rect x="218" y="14" width="3" height="1" fill="#a0a0a0"/>
<rect x="218" y="16" width="3" height="1" fill="#a0a0a0"/>
<rect x="218" y="18" width="3" height="1" fill="#a0a0a0"/>
<rect x="218" y="20" width="3" height="1" fill="#a0a0a0"/>
<rect x="232" y="6" width="1" height="14" fill="#505050"/>
<rect x="231" y="7" width="3" height="1" fill="#505050"/>
<rect x="230" y="17" width="14" height="1" fill="#505050"/>
<rect x="242" y="16" width="1" height="3" fill="#505050"/>
<rect x="238" y="7" width="1" height="9" fill="#008000"/><rect x="239" y="8" width="2" height="1" fill="#008000"/><rect x="236" y="14" width="2" height="1" fill="#008000"/>
<rect x="252" y="0" width="26" height="23" fill="url(#chk)"/>
<rect x="252" y="0" width="26" height="1" fill="#a0a0a0"/>
<rect x="252" y="0" width="1" height="22" fill="#a0a0a0"/>
<rect x="277" y="0" width="1" height="23" fill="#ffffff"/>
<rect x="252" y="22" width="26" height="1" fill="#ffffff"/>
<rect x="260" y="6" width="1" height="14" fill="#505050"/>
<rect x="259" y="7" width="3" height="1" fill="#505050"/>
<rect x="258" y="17" width="14" height="1" fill="#505050"/>
<rect x="270" y="16" width="1" height="3" fill="#505050"/>
<rect x="266" y="4" width="1" height="12" fill="#008000"/>
<rect x="264" y="6" width="5" height="8" fill="#0a8a0a"/><rect x="265" y="7" width="3" height="6" fill="#30d838"/>
<rect x="288" y="6" width="1" height="14" fill="#505050"/>
<rect x="287" y="7" width="3" height="1" fill="#505050"/>
<rect x="286" y="17" width="14" height="1" fill="#505050"/>
<rect x="298" y="16" width="1" height="3" fill="#505050"/>
<path d="M287 15C290 13 292 8.5 294 9.5C296 10.5 297 12.5 299 13" fill="none" stroke="#2a9a2a" stroke-width="1.2" shape-rendering="auto"/>
<rect x="309" y="2" width="1" height="20" fill="#a0a0a0"/><rect x="310" y="2" width="1" height="20" fill="#fafafa"/>
<g shape-rendering="auto">
<path d="M328 14L332.7 18.3" stroke="#b08414" stroke-width="3.2" stroke-linecap="round"/>
<path d="M328.4 13.8L332.6 17.7" stroke="#f4e060" stroke-width="1.5" stroke-linecap="round"/>
<circle cx="324" cy="10" r="5.6" fill="url(#gLens)" stroke="#3c78d0" stroke-width="1.3"/>
<rect x="320.8" y="9.2" width="6.4" height="1.8" fill="#4a88b4"/>
<rect x="323.1" y="6.9" width="1.8" height="6.4" fill="#4a88b4"/>
</g>
<g shape-rendering="auto">
<path d="M356 14L360.7 18.3" stroke="#b08414" stroke-width="3.2" stroke-linecap="round"/>
<path d="M356.4 13.8L360.6 17.7" stroke="#f4e060" stroke-width="1.5" stroke-linecap="round"/>
<circle cx="352" cy="10" r="5.6" fill="url(#gLens)" stroke="#3c78d0" stroke-width="1.3"/>
<rect x="348.8" y="9.2" width="6.4" height="1.8" fill="#4a88b4"/>
</g>
<rect x="374" y="4" width="8" height="8" fill="url(#gGreenT)"/>
<rect x="375" y="5" width="1" height="1" fill="#fff" opacity="0.8"/>
<rect x="375" y="7" width="6" height="4" fill="#fff" opacity="0.85"/>
<rect x="376" y="8" width="4" height="1" fill="url(#gGreenT)" opacity="0.7"/>
<rect x="382" y="4" width="8" height="8" fill="url(#gBlueT)"/>
<rect x="383" y="5" width="1" height="1" fill="#fff" opacity="0.8"/>
<rect x="383" y="7" width="6" height="4" fill="#fff" opacity="0.85"/>
<rect x="384" y="8" width="4" height="1" fill="url(#gBlueT)" opacity="0.7"/>
<rect x="374" y="12" width="8" height="8" fill="url(#gBlueT)"/>
<rect x="375" y="13" width="1" height="1" fill="#fff" opacity="0.8"/>
<rect x="375" y="15" width="6" height="4" fill="#fff" opacity="0.85"/>
<rect x="376" y="16" width="4" height="1" fill="url(#gBlueT)" opacity="0.7"/>
<rect x="382" y="12" width="8" height="8" fill="url(#gGreenT)"/>
<rect x="383" y="13" width="1" height="1" fill="#fff" opacity="0.8"/>
<rect x="383" y="15" width="6" height="4" fill="#fff" opacity="0.85"/>
<rect x="384" y="16" width="4" height="1" fill="url(#gGreenT)" opacity="0.7"/>
<rect x="399" y="2" width="1" height="20" fill="#a0a0a0"/><rect x="400" y="2" width="1" height="20" fill="#fafafa"/>
<rect x="404" y="0" width="26" height="23" fill="url(#chk)"/>
<rect x="404" y="0" width="26" height="1" fill="#a0a0a0"/>
<rect x="404" y="0" width="1" height="22" fill="#a0a0a0"/>
<rect x="429" y="0" width="1" height="23" fill="#ffffff"/>
<rect x="404" y="22" width="26" height="1" fill="#ffffff"/>
<rect x="412" y="6" width="1" height="14" fill="#505050"/>
<rect x="411" y="7" width="3" height="1" fill="#505050"/>
<rect x="410" y="17" width="14" height="1" fill="#505050"/>
<rect x="422" y="16" width="1" height="3" fill="#505050"/>
<path d="M417.3 7.8L421 11.2L417.3 14.6Z" fill="#7be07b" stroke="#149a14" stroke-width="1" shape-rendering="auto"/>
<rect x="432" y="0" width="26" height="23" fill="url(#chk)"/>
<rect x="432" y="0" width="26" height="1" fill="#a0a0a0"/>
<rect x="432" y="0" width="1" height="22" fill="#a0a0a0"/>
<rect x="457" y="0" width="1" height="23" fill="#ffffff"/>
<rect x="432" y="22" width="26" height="1" fill="#ffffff"/>
<rect x="440" y="6" width="1" height="14" fill="#505050"/>
<rect x="439" y="7" width="3" height="1" fill="#505050"/>
<rect x="438" y="17" width="14" height="1" fill="#505050"/>
<rect x="450" y="16" width="1" height="3" fill="#505050"/>
<rect x="446" y="6" width="1" height="10" fill="#1060a0"/>
<path d="M447.5 11.5L451.8 11.5M447.6 11.5L450 9.2M447.6 11.5L450 13.8" stroke="#d84010" stroke-width="1.2" fill="none" shape-rendering="auto"/>
<rect x="461" y="2" width="1" height="20" fill="#a0a0a0"/><rect x="462" y="2" width="1" height="20" fill="#fafafa"/>
<g shape-rendering="auto">
<path d="M471.6 4.6H478.6L482 8V17.4H471.6Z" fill="#fcfcfc" stroke="#787878" stroke-width="0.9"/><path d="M478.6 4.6V8H482" fill="none" stroke="#909090" stroke-width="0.7"/>
<path d="M475 8.5C473.8 9 473.8 12.5 475 13" fill="none" stroke="#404040" stroke-width="0.9"/>
<path d="M481 10V21M475.5 15.5H486.5" stroke="#0e8a10" stroke-width="4.2"/>
<path d="M481 11V20M476.5 15.5H485.5" stroke="#2fd030" stroke-width="2.4"/>
</g>
<rect x="493" y="11" width="5" height="1" fill="#000"/><rect x="494" y="12" width="3" height="1" fill="#000"/><rect x="495" y="13" width="1" height="1" fill="#000"/>
<g shape-rendering="auto">
<circle cx="517" cy="12" r="8" fill="url(#gClock)"/>
<path d="M516.5 7.5V12H520" stroke="#303030" stroke-width="1.2" fill="none"/>
</g>
<rect x="532" y="11" width="5" height="1" fill="#000"/><rect x="533" y="12" width="3" height="1" fill="#000"/><rect x="534" y="13" width="1" height="1" fill="#000"/>
<rect x="548" y="5" width="16" height="14" fill="#2f6fc6"/>
<rect x="549" y="6" width="14" height="2" fill="#7fb2ee"/>
<rect x="549" y="8" width="14" height="10" fill="#fff"/>
<rect x="549" y="12.6" width="14" height="1" fill="#5a8ed8"/>
<path d="M550 11.2L552.5 10.2L554 9.4L556 10.4L558.5 10.2L561.5 9" fill="none" stroke="#a02810" stroke-width="1.2" shape-rendering="auto"/>
<path d="M550.5 16.6L553 15.8L555 16.4L557 15L559 14.4L561 16.2" fill="none" stroke="#1e9a28" stroke-width="1.2" shape-rendering="auto"/>
<rect x="571" y="11" width="5" height="1" fill="#000"/><rect x="572" y="12" width="3" height="1" fill="#000"/><rect x="573" y="13" width="1" height="1" fill="#000"/>
<rect x="582" y="0" width="1" height="24" fill="#a0a0a0"/><rect x="583" y="0" width="1" height="24" fill="#ffffff"/>
<rect x="586" y="2" width="3" height="1" fill="#a0a0a0"/>
<rect x="586" y="4" width="3" height="1" fill="#a0a0a0"/>
<rect x="586" y="6" width="3" height="1" fill="#a0a0a0"/>
<rect x="586" y="8" width="3" height="1" fill="#a0a0a0"/>
<rect x="586" y="10" width="3" height="1" fill="#a0a0a0"/>
<rect x="586" y="12" width="3" height="1" fill="#a0a0a0"/>
<rect x="586" y="14" width="3" height="1" fill="#a0a0a0"/>
<rect x="586" y="16" width="3" height="1" fill="#a0a0a0"/>
<rect x="586" y="18" width="3" height="1" fill="#a0a0a0"/>
<rect x="586" y="20" width="3" height="1" fill="#a0a0a0"/>
<rect x="592" y="0" width="26" height="23" fill="url(#chk)"/>
<rect x="592" y="0" width="26" height="1" fill="#a0a0a0"/>
<rect x="592" y="0" width="1" height="22" fill="#a0a0a0"/>
<rect x="617" y="0" width="1" height="23" fill="#ffffff"/>
<rect x="592" y="22" width="26" height="1" fill="#ffffff"/>
<path d="M600 5V17.5L603 14.8L605.2 19.5L607 18.7L604.8 14.2L608.6 14.2Z" fill="#484848" shape-rendering="auto"/>
<rect x="632" y="5" width="1" height="15" fill="#404040"/><rect x="625" y="12" width="15" height="1" fill="#404040"/>
<rect x="632" y="12" width="1" height="1" fill="#f0f0f0"/>
<rect x="649" y="2" width="1" height="20" fill="#a0a0a0"/><rect x="650" y="2" width="1" height="20" fill="#fafafa"/>
<rect x="666" y="6" width="1" height="13" fill="#404040"/>
<rect x="689" y="12" width="12" height="1" fill="#404040"/>
<path d="M716.7 18.9L728.9 6.9" stroke="#404040" stroke-width="1.1" shape-rendering="auto"/>
<g shape-rendering="auto" stroke="#404040" stroke-width="1" fill="none">
<path d="M743 13.5L754 5M745 17.5L756.5 8.5"/>
<path d="M745.5 10.5L748 17M748.5 8.5L751 15M751.8 5.8L754.4 12.6" stroke-width="0.9"/>
<path d="M743.5 16L755.5 6.5" stroke-dasharray="1.2 1.2" stroke-width="0.8"/>
</g>
<text x="753.4" y="21" font-size="7" font-weight="bold" fill="#282828">E</text>
<line x1="772" y1="5.5" x2="785" y2="5.5" stroke="#404040" stroke-width="1" stroke-dasharray="1 1"/>
<line x1="772" y1="8.5" x2="785" y2="8.5" stroke="#404040" stroke-width="1" stroke-dasharray="1 1"/>
<line x1="772" y1="12.5" x2="785" y2="12.5" stroke="#404040" stroke-width="1" stroke-dasharray="1 1"/>
<line x1="772" y1="16.5" x2="781" y2="16.5" stroke="#404040" stroke-width="1" stroke-dasharray="1 1"/>
<text x="781.8" y="21" font-size="7" font-weight="bold" fill="#282828">F</text>
<text x="802.8" y="17" font-size="12" fill="#484848" stroke="#484848" stroke-width="0.5">A</text>
<rect x="829.5" y="6.5" width="11" height="12" fill="none" stroke="#404040" stroke-width="1" stroke-dasharray="1 1"/>
<rect x="828" y="5" width="2" height="2" fill="#404040"/>
<text x="831" y="16.6" font-size="11" font-weight="bold" fill="#484848">T</text>
<g shape-rendering="auto" fill="#404040">
<path d="M859.5 6L862.5 9.5H856.5Z"/>
<path d="M866.5 19L863.2 15.2H869.8Z"/>
<path d="M857.5 12.5L859.5 15L863.5 10.5" fill="none" stroke="#404040" stroke-width="1.3"/>
<path d="M863 13.5L865.5 12L869.5 15.4Z"/>
</g>
<rect x="877" y="11" width="5" height="1" fill="#000"/><rect x="878" y="12" width="3" height="1" fill="#000"/><rect x="879" y="13" width="1" height="1" fill="#000"/>
<rect x="888" y="0" width="1" height="24" fill="#a0a0a0"/><rect x="889" y="0" width="1" height="24" fill="#ffffff"/>
<rect x="892" y="2" width="3" height="1" fill="#a0a0a0"/>
<rect x="892" y="4" width="3" height="1" fill="#a0a0a0"/>
<rect x="892" y="6" width="3" height="1" fill="#a0a0a0"/>
<rect x="892" y="8" width="3" height="1" fill="#a0a0a0"/>
<rect x="892" y="10" width="3" height="1" fill="#a0a0a0"/>
<rect x="892" y="12" width="3" height="1" fill="#a0a0a0"/>
<rect x="892" y="14" width="3" height="1" fill="#a0a0a0"/>
<rect x="892" y="16" width="3" height="1" fill="#a0a0a0"/>
<rect x="892" y="18" width="3" height="1" fill="#a0a0a0"/>
<rect x="892" y="20" width="3" height="1" fill="#a0a0a0"/>
<rect x="1038" y="0" width="26" height="23" fill="url(#chk)"/>
<rect x="1038" y="0" width="26" height="1" fill="#a0a0a0"/>
<rect x="1038" y="0" width="1" height="22" fill="#a0a0a0"/>
<rect x="1063" y="0" width="1" height="23" fill="#ffffff"/>
<rect x="1038" y="22" width="26" height="1" fill="#ffffff"/>
<text x="903.2" y="15.9" font-size="9.6" fill="#303030">M1</text>
<text x="931.1" y="15.9" font-size="9.6" fill="#303030">M5</text>
<text x="957.2" y="15.9" font-size="9.6" fill="#303030">M15</text>
<text x="985.2" y="15.9" font-size="9.6" fill="#303030">M30</text>
<text x="1015.9" y="15.9" font-size="9.6" fill="#303030">H1</text>
<text x="1042.7" y="15.9" font-size="9.6" fill="#303030">H4</text>
<text x="1072.0" y="15.9" font-size="9.6" fill="#303030">D1</text>
<text x="1100.0" y="15.9" font-size="9.6" fill="#303030">W1</text>
<text x="1126.2" y="15.9" font-size="9.6" fill="#303030">MN</text>
<rect x="1149" y="0" width="1" height="24" fill="#a0a0a0"/><rect x="1150" y="0" width="1" height="24" fill="#ffffff"/>
<g shape-rendering="auto">
<path d="M1617 12.2L1612.6 16.2" stroke="#1d55c8" stroke-width="2.6" stroke-linecap="round"/>
<circle cx="1619.7" cy="9.4" r="3.9" fill="#f4f8ff" stroke="#2a62d6" stroke-width="1.3"/>
<path d="M1637 13.5C1637 10 1641 9 1645 9.6L1648 14C1648 17 1645 18 1642 18L1639.5 20.5L1640 17.6C1638 17 1637 15.5 1637 13.5Z" fill="#e8e8f0" stroke="#a8a8a8" stroke-width="0.9"/>
<circle cx="1650.5" cy="9.5" r="8.4" fill="url(#gRedB)"/>
</g>
<text x="1647" y="14" font-size="12.5" font-weight="bold" fill="#fff" textLength="6" lengthAdjust="spacingAndGlyphs">1</text>
</g>
</svg>
</body></html>
